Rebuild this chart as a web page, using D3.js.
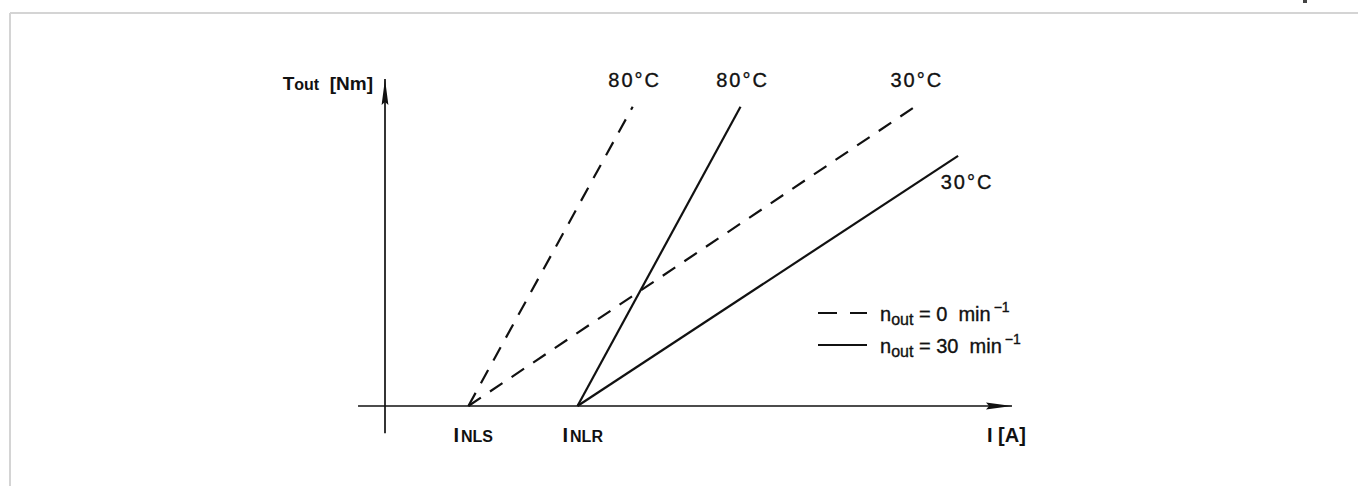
<!DOCTYPE html>
<html>
<head>
<meta charset="utf-8">
<script src="https://cdn.jsdelivr.net/npm/d3@7/dist/d3.min.js"></script>
<style>
  html, body { margin: 0; padding: 0; background: #fff; }
  svg { display: block; }
  text { fill: #111; }
  text.heavy { stroke: #111; stroke-width: 0.35px; }
</style>
</head>
<body>
<svg id="chart" width="1358" height="486"></svg>
<script>
// Characteristic lines: output torque vs. current (relative units)
const seriesNames = ["80°C stall", "80°C run", "30°C stall", "30°C run"];
const seriesDashed = [true, false, true, false];
const seriesX = [[13.3, 39.5], [30.7, 56.7], [13.3, 84.5], [30.7, 91.4]];
const seriesY = [[0, 91.5], [0, 91.5], [0, 91.5], [0, 76.5]];
const tempLabels = ["80°C", "80°C", "30°C", "30°C"];
const xTickValues = [13.3, 30.7];
const xTickLabels = [["I", "NLS"], ["I", "NLR"]];
const legendSpeeds = ["0", "30"];

const svg = d3.select("#chart");

// page frame
svg.append("line").attr("x1", 10).attr("y1", 13).attr("x2", 1358).attr("y2", 13)
  .attr("stroke", "#d4d4d4").attr("stroke-width", 2);
svg.append("line").attr("x1", 10).attr("y1", 13).attr("x2", 10).attr("y2", 486)
  .attr("stroke", "#d4d4d4").attr("stroke-width", 2);
svg.append("rect").attr("x", 1303).attr("y", 0).attr("width", 4).attr("height", 3)
  .attr("fill", "#444");

const x = d3.scaleLinear().domain([0, 100]).range([385, 1012]);
const y = d3.scaleLinear().domain([0, 100]).range([406, 79]);

const defs = svg.append("defs");
defs.append("marker").attr("id", "arrow")
  .attr("viewBox", "0 0 26 8").attr("refX", 26).attr("refY", 4)
  .attr("markerWidth", 26).attr("markerHeight", 8)
  .attr("markerUnits", "userSpaceOnUse").attr("orient", "auto")
  .append("path").attr("d", "M0,0.6 L26,4 L0,7.4 L3,4 Z").attr("fill", "#111");

// axes
svg.append("line").attr("x1", x(-4.3)).attr("y1", y(0)).attr("x2", x(100)).attr("y2", y(0))
  .attr("stroke", "#111").attr("stroke-width", 1.7).attr("marker-end", "url(#arrow)");
svg.append("line").attr("x1", x(0)).attr("y1", y(-8.3)).attr("x2", x(0)).attr("y2", y(100))
  .attr("stroke", "#111").attr("stroke-width", 1.7).attr("marker-end", "url(#arrow)");

// characteristic lines
const line = d3.line().x(d => x(d[0])).y(d => y(d[1]));
seriesNames.forEach((name, i) => {
  const pts = seriesX[i].map((v, k) => [v, seriesY[i][k]]);
  svg.append("path").attr("d", line(pts))
    .attr("fill", "none").attr("stroke", "#111").attr("stroke-width", 2.2)
    .attr("stroke-dasharray", seriesDashed[i] ? "15,11" : null);
});

// temperature labels at line ends
const labelFont = "'Liberation Sans', Arial, sans-serif";
tempLabels.forEach((t, i) => {
  const ex = x(seriesX[i][1]), ey = y(seriesY[i][1]);
  const isLow = i === 3;
  svg.append("text").attr("class", "heavy")
    .attr("x", isLow ? ex + 9 : ex + 2)
    .attr("y", isLow ? ey + 33 : 87)
    .attr("text-anchor", "middle")
    .attr("font-family", labelFont).attr("font-size", 20)
    .attr("letter-spacing", 2)
    .text(t);
});

// axis titles
const axisFont = "'Liberation Sans', Arial, sans-serif";
const yt = svg.append("text").attr("x", 373).attr("y", 90).attr("text-anchor", "end")
  .attr("font-family", axisFont).attr("font-size", 19).attr("font-weight", "bold");
yt.append("tspan").text("T");
yt.append("tspan").attr("font-size", 16).text("out");
yt.append("tspan").attr("xml:space", "preserve").text("  [Nm]");

svg.append("text").attr("x", 987).attr("y", 442)
  .attr("font-family", axisFont).attr("font-size", 20).attr("font-weight", "bold")
  .text("I [A]");

// current ticks
xTickValues.forEach((v, i) => {
  const t = svg.append("text").attr("x", x(v) - 15).attr("y", 442)
    .attr("font-family", axisFont).attr("font-size", 20).attr("font-weight", "bold");
  t.append("tspan").text(xTickLabels[i][0]);
  t.append("tspan").attr("dx", 2).attr("font-size", 16).text(xTickLabels[i][1]);
});

// legend
legendSpeeds.forEach((s, i) => {
  const ly = 313 + i * 32;
  svg.append("line").attr("x1", 818).attr("x2", 867).attr("y1", ly).attr("y2", ly)
    .attr("stroke", "#111").attr("stroke-width", 2.2)
    .attr("stroke-dasharray", i === 0 ? "19,13" : null);
  const t = svg.append("text").attr("class", "heavy").attr("x", 880).attr("y", ly + 8)
    .attr("font-family", labelFont).attr("font-size", 20);
  t.append("tspan").text("n");
  t.append("tspan").attr("font-size", 16).attr("dy", 4).text("out");
  t.append("tspan").attr("dy", -4).attr("xml:space", "preserve").text(" = " + s + "  min");
  t.append("tspan").attr("font-size", 14).attr("dy", -9).attr("dx", 3).text("−1");
});
</script>
</body>
</html>
